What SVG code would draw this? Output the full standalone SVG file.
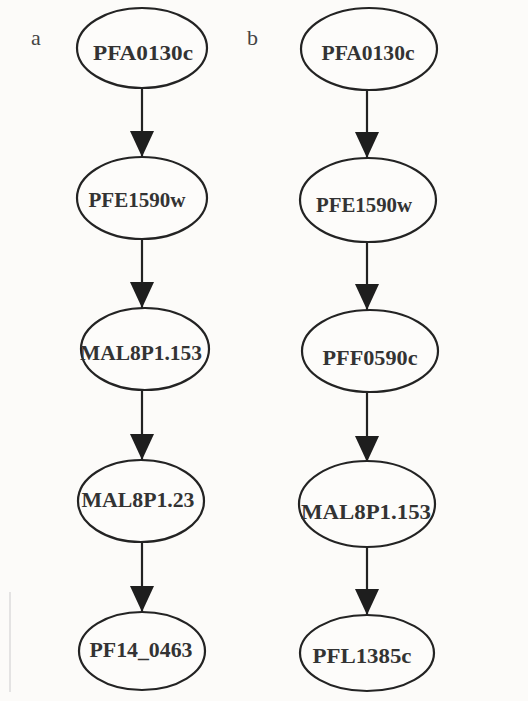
<svg xmlns="http://www.w3.org/2000/svg" width="528" height="701" viewBox="0 0 528 701">
  <style>
    .node ellipse { fill: #fdfcfa; stroke: #232323; stroke-width: 2.2; }
    .node text { font-family: "Liberation Serif", "Times New Roman", serif; font-weight: bold; font-size: 20px; fill: #333333; text-anchor: middle; }
    .panel { font-family: "Liberation Serif", "Times New Roman", serif; font-size: 22px; fill: #444444; }
    .edge { stroke: #222222; stroke-width: 2.2; fill: none; marker-end: url(#head); }
  </style>
  <defs>
    <marker id="head" markerUnits="userSpaceOnUse" markerWidth="26" markerHeight="26" viewBox="0 0 26 26" refX="26" refY="13" orient="auto">
      <path d="M0,1 L26,13 L0,25 Z" fill="#1e1e1e"/>
    </marker>
  </defs>

  <rect width="528" height="701" fill="#fcfbf9"/>

  <!-- scanner edge mark -->
  <line x1="10" y1="592" x2="10" y2="692" stroke="#d4d4d4" stroke-width="1.2"/>

  <!-- panel letters -->
  <text class="panel" x="31" y="45">a</text>
  <text class="panel" x="247" y="45">b</text>

  <!-- connectors -->
  <g id="edges">
    <line class="edge" x1="142" y1="88" x2="142" y2="157"/>
    <line class="edge" x1="142" y1="239" x2="142" y2="308"/>
    <line class="edge" x1="142" y1="390" x2="142" y2="460"/>
    <line class="edge" x1="142" y1="542" x2="142" y2="612"/>

    <line class="edge" x1="367" y1="90" x2="367" y2="158"/>
    <line class="edge" x1="367" y1="243" x2="367" y2="310"/>
    <line class="edge" x1="367" y1="392" x2="367" y2="462"/>
    <line class="edge" x1="367" y1="547" x2="367" y2="615"/>
  </g>

  <!-- pathway a -->
  <g id="a_PFA0130c" class="node">
    <ellipse cx="142" cy="48" rx="65" ry="40"/>
    <text x="143" y="60" textLength="100" lengthAdjust="spacingAndGlyphs">PFA0130c</text>
  </g>
  <g id="a_PFE1590w" class="node">
    <ellipse cx="142" cy="198" rx="65" ry="41"/>
    <text x="137" y="207" textLength="97" lengthAdjust="spacingAndGlyphs">PFE1590w</text>
  </g>
  <g id="a_MAL8P1_153" class="node">
    <ellipse cx="145" cy="349" rx="64" ry="41"/>
    <text x="141" y="360" textLength="122" lengthAdjust="spacingAndGlyphs">MAL8P1.153</text>
  </g>
  <g id="a_MAL8P1_23" class="node">
    <ellipse cx="141" cy="501" rx="63" ry="41"/>
    <text x="138" y="507" textLength="113" lengthAdjust="spacingAndGlyphs">MAL8P1.23</text>
  </g>
  <g id="a_PF14_0463" class="node">
    <ellipse cx="142" cy="651" rx="63" ry="39"/>
    <text x="141" y="657" textLength="103" lengthAdjust="spacingAndGlyphs">PF14_0463</text>
  </g>

  <!-- pathway b -->
  <g id="b_PFA0130c" class="node">
    <ellipse cx="369" cy="49" rx="68" ry="41"/>
    <text x="368" y="60" textLength="93" lengthAdjust="spacingAndGlyphs">PFA0130c</text>
  </g>
  <g id="b_PFE1590w" class="node">
    <ellipse cx="368" cy="200" rx="68" ry="42"/>
    <text x="364" y="212" textLength="96" lengthAdjust="spacingAndGlyphs">PFE1590w</text>
  </g>
  <g id="b_PFF0590c" class="node">
    <ellipse cx="370" cy="351" rx="68" ry="41"/>
    <text x="370" y="365" textLength="95" lengthAdjust="spacingAndGlyphs">PFF0590c</text>
  </g>
  <g id="b_MAL8P1_153" class="node">
    <ellipse cx="367" cy="504" rx="68" ry="43"/>
    <text x="366" y="519" textLength="130" lengthAdjust="spacingAndGlyphs">MAL8P1.153</text>
  </g>
  <g id="b_PFL1385c" class="node">
    <ellipse cx="367" cy="653" rx="67" ry="38"/>
    <text x="362" y="663" textLength="99" lengthAdjust="spacingAndGlyphs">PFL1385c</text>
  </g>
</svg>
